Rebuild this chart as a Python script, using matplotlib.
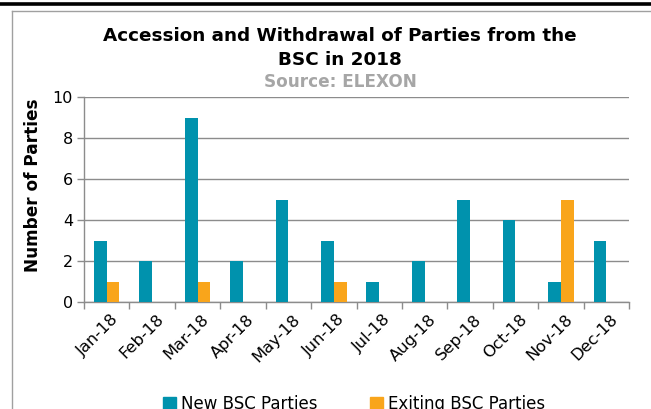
import matplotlib

matplotlib.use("Agg")
import matplotlib.pyplot as plt
import numpy as np
from matplotlib.lines import Line2D
from matplotlib.patches import Patch

months = ["Jan-18", "Feb-18", "Mar-18", "Apr-18", "May-18", "Jun-18",
          "Jul-18", "Aug-18", "Sep-18", "Oct-18", "Nov-18", "Dec-18"]
new_parties = [3, 2, 9, 2, 5, 3, 1, 2, 5, 4, 1, 3]
exiting_parties = [1, 0, 1, 0, 0, 1, 0, 0, 0, 0, 5, 0]

TEAL = "#0092AD"
ORANGE = "#F9A51B"
GREY = "#8C8C8C"

W, H = 651, 409
fig = plt.figure(figsize=(W / 100, H / 100), dpi=100)


def fx(px):
    return px / W


def fy(py):
    return 1 - py / H


# page furniture: thick rule on top, chart frame
fig.add_artist(Line2D([0, 1], [fy(4), fy(4)], color="black", lw=2.6))
fig.add_artist(Line2D([fx(12), 1], [fy(11), fy(11)], color="#A0A0A0", lw=1.0))
fig.add_artist(Line2D([fx(12), fx(12)], [0, fy(11)], color="#A0A0A0", lw=1.0))

ax = fig.add_axes([fx(84), fy(302), fx(629) - fx(84), fy(97) - fy(302)])

x = np.arange(len(months))
width = 0.28
ax.bar(x - width / 2, new_parties, width=width, color=TEAL, linewidth=0,
       zorder=3)
ax.bar(x + width / 2, exiting_parties, width=width, color=ORANGE, linewidth=0,
       zorder=3)

ax.set_xlim(-0.5, len(months) - 0.5)
ax.set_ylim(0, 10)
ax.set_yticks(range(0, 11, 2))
ax.yaxis.grid(True, color=GREY, lw=1.0, zorder=0)
ax.set_axisbelow(True)

# category boundaries carry the tick marks, labels sit at the centres
ax.set_xticks(np.arange(-0.5, len(months), 1.0))
ax.set_xticklabels([])
ax.set_xticks(x + 0.08, minor=True)
ax.set_xticklabels(months, minor=True, rotation=45, ha="right", va="top",
                   rotation_mode="anchor", fontsize=11.8)
ax.tick_params(axis="x", which="major", length=5, color=GREY, width=1)
ax.tick_params(axis="x", which="minor", length=0, pad=7)
ax.tick_params(axis="y", length=5, color=GREY, width=1, labelsize=11.5, pad=3)

for side in ("top", "right"):
    ax.spines[side].set_visible(False)
for side in ("left", "bottom"):
    ax.spines[side].set_color(GREY)
    ax.spines[side].set_linewidth(1.0)

fig.text(fx(33), fy(185), "Number of Parties", rotation=90, fontsize=12.2,
         fontweight="bold", ha="center", va="center")

fig.text(fx(340), fy(36), "Accession and Withdrawal of Parties from the",
         fontsize=13.2, fontweight="bold", ha="center", va="center")
fig.text(fx(340), fy(60), "BSC in 2018", fontsize=13.2, fontweight="bold",
         ha="center", va="center")
fig.text(fx(340), fy(82), "Source: ELEXON", fontsize=12.2, fontweight="bold",
         color="#A6A6A6", ha="center", va="center")

handles = [Patch(color=TEAL, label="New BSC Parties"),
           Patch(color=ORANGE, label="Exiting BSC Parties")]
fig.legend(handles=handles, loc="center", bbox_to_anchor=(fx(354), fy(404)),
           ncol=2, frameon=False, fontsize=12, handlelength=0.75,
           handleheight=0.75, handletextpad=0.3, columnspacing=3.2)

fig.savefig("out.png", dpi=100)
